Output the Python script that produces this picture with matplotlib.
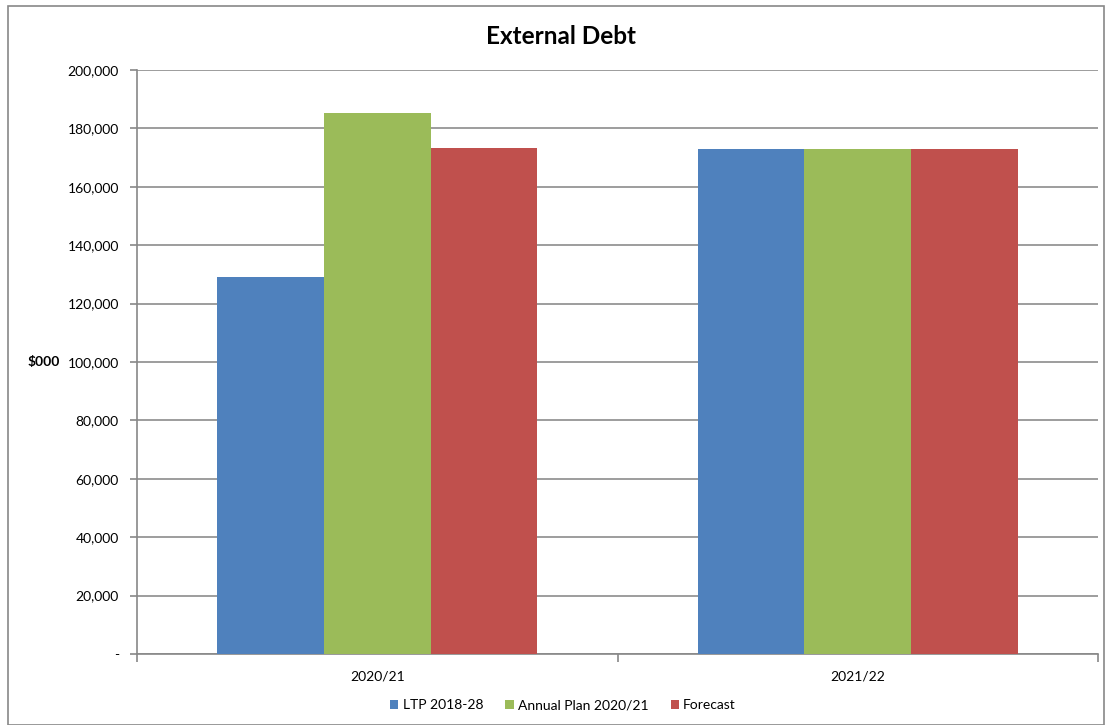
import matplotlib.pyplot as plt
import numpy as np
from matplotlib.ticker import FuncFormatter
from matplotlib.patches import Rectangle

plt.rcParams['font.family'] = ['Lato', 'DejaVu Sans']

categories = ["2020/21", "2021/22"]
series_names = ["LTP 2018-28", "Annual Plan 2020/21", "Forecast"]
ltp = [129000, 173000]
annual_plan = [185300, 173000]
forecast = [173300, 173000]
colors = ["#4F81BD", "#9BBB59", "#C0504D"]

fig = plt.figure(figsize=(11.06, 7.25), dpi=100)
W, H = 1106, 725
# chart border
fig.patches.append(Rectangle((8 / W, 0), (1104 - 8) / W, (725 - 6) / H,
                             transform=fig.transFigure, fill=False,
                             edgecolor="#888888", linewidth=1.2))

ax = fig.add_axes([137 / W, 1 - 654 / H, (1098 - 137) / W, (654 - 70) / H])

x = np.arange(len(categories))
bw = 1 / (3 + 1.5)
for i, (vals, name) in enumerate(zip([ltp, annual_plan, forecast], series_names)):
    ax.bar(x + (i - 1) * bw, vals, width=bw, color=colors[i], label=name,
           zorder=3, linewidth=0)

ax.set_xlim(-0.5, 1.5)
ax.set_ylim(0, 200000)
ax.set_yticks(np.arange(0, 200001, 20000))
ax.yaxis.set_major_formatter(FuncFormatter(lambda v, p: "-" if v == 0 else f"{int(v):,}"))
ax.set_xticks(x)
ax.set_xticklabels(categories)
ax.set_xticks([-0.5, 0.5, 1.5], minor=True)
ax.tick_params(axis="x", which="major", length=0, pad=12, labelsize=10)
ax.tick_params(axis="x", which="minor", length=6, color="#888888", width=1.2)
ax.tick_params(axis="y", length=5, color="#888888", width=1.2, pad=8, labelsize=10)

ax.grid(axis="y", color="#8c8c8c", linewidth=1.2, zorder=0)
for side in ["top", "right"]:
    ax.spines[side].set_visible(False)
for side in ["left", "bottom"]:
    ax.spines[side].set_color("#888888")
    ax.spines[side].set_linewidth(1.2)

fig.text(44 / W, 1 - 362 / H, "$000", fontsize=10, fontweight="bold",
         ha="center", va="center")
fig.text(561 / W, 1 - 37 / H, "External Debt", fontsize=17.5, fontweight="bold",
         ha="center", va="center")

fig.legend(loc="center", bbox_to_anchor=(563 / W, 1 - 705 / H), ncol=3,
           frameon=False, fontsize=10, handlelength=0.6, handleheight=0.6,
           handletextpad=0.3, columnspacing=1.6)

fig.savefig("out.png", dpi=100)
